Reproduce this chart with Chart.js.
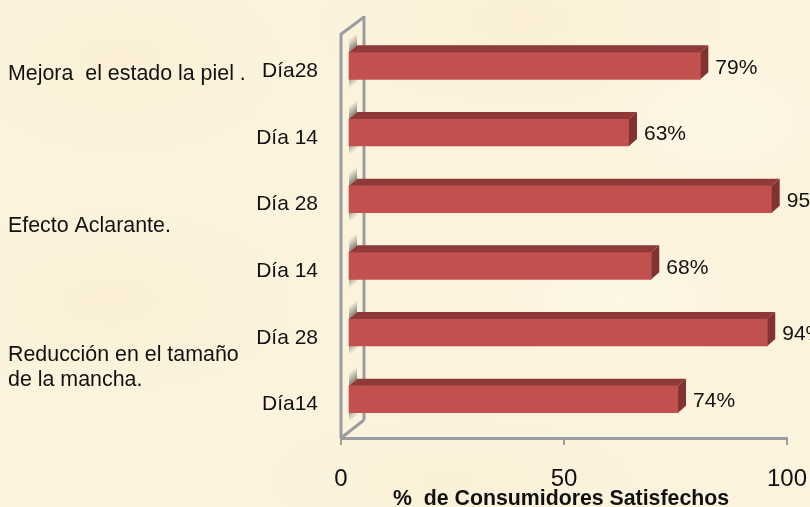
<!DOCTYPE html>
<html>
<head>
<meta charset="utf-8">
<title>Consumidores Satisfechos</title>
<script src="https://cdn.jsdelivr.net/npm/chart.js@4"></script>
<style>
html, body { margin: 0; padding: 0; overflow: hidden; }
body {
  width: 810px; height: 507px;
  background-color: #fcf3dd;
  background-image:
    radial-gradient(ellipse 160px 90px at 120px 60px, rgba(249,236,204,.4), transparent),
    radial-gradient(ellipse 200px 80px at 520px 20px, rgba(249,236,204,.4), transparent),
    radial-gradient(ellipse 180px 90px at 110px 300px, rgba(249,236,204,.4), transparent),
    radial-gradient(ellipse 150px 70px at 620px 300px, rgba(255,250,236,.6), transparent),
    radial-gradient(ellipse 180px 60px at 450px 480px, rgba(249,236,204,.35), transparent),
    radial-gradient(ellipse 140px 80px at 720px 120px, rgba(255,250,236,.6), transparent);
}
canvas { display: block; }
</style>
</head>
<body>
<canvas id="myChart" width="810" height="507"></canvas>
<script>
var categories = ['Día28', 'Día 14', 'Día 28', 'Día 14', 'Día 28', 'Día14'];
var satisfied = [79, 63, 95, 68, 94, 74];
var xTicks = [0, 50, 100];
var groupLabels = [
  { lines: ['Mejora  el estado la piel .'], y: 74 },
  { lines: ['Efecto Aclarante.'], y: 226 },
  { lines: ['Reducción en el tamaño', 'de la mancha.'], y: 355 }
];

var barOffsetX = 7, barOffsetY = -5.5;   // bars sit inside the 3d box
var depthX = 8, depthY = 7;              // depth of each bar
var wallX = 23, wallY = 18;              // depth of the box
var wallColor = '#9a9ea1';

function line(ctx, x1, y1, x2, y2) {
  ctx.beginPath();
  ctx.moveTo(x1, y1);
  ctx.lineTo(x2, y2);
  ctx.stroke();
}

function poly(ctx, pts, fill) {
  ctx.fillStyle = fill;
  ctx.beginPath();
  ctx.moveTo(pts[0][0], pts[0][1]);
  for (var i = 1; i < pts.length; i++) ctx.lineTo(pts[i][0], pts[i][1]);
  ctx.closePath();
  ctx.fill();
}

var box3d = {
  id: 'box3d',
  beforeDatasetsDraw: function(chart) {
    var ctx = chart.ctx, a = chart.chartArea;
    ctx.save();
    // wall and floor
    ctx.strokeStyle = wallColor;
    ctx.lineWidth = 3;
    line(ctx, a.left, a.bottom, a.left, a.top - 3);
    line(ctx, a.left - 1, a.top - 3, a.left + wallX, a.top - 3 - wallY);
    line(ctx, a.left + wallX, a.top - 4 - wallY, a.left + wallX, a.bottom - wallY);
    line(ctx, a.left + wallX, a.bottom - wallY, a.left, a.bottom);
    ctx.restore();

    ctx.save();
    ctx.translate(barOffsetX, barOffsetY);
    // soft shadow of the bars on the wall
    chart.getDatasetMeta(0).data.forEach(function(bar) {
      var x0 = bar.base, top = bar.y - bar.height / 2, bot = bar.y + bar.height / 2;
      var g = ctx.createLinearGradient(x0, top, x0 - 6.6, top - 7.5);
      g.addColorStop(0, 'rgba(85,85,85,.7)');
      g.addColorStop(1, 'rgba(110,110,110,0)');
      poly(ctx, [[x0, top], [x0 + depthX, top - depthY], [x0 + depthX, top - depthY - 12], [x0, top - 12]], g);
      var h = ctx.createLinearGradient(x0, bot, x0 + 5, bot + 6);
      h.addColorStop(0, 'rgba(95,95,95,.6)');
      h.addColorStop(1, 'rgba(130,130,130,0)');
      poly(ctx, [[x0, bot], [x0 + depthX, bot - depthY], [x0 + depthX, bot - depthY + 11], [x0, bot + 11]], h);
    });
  },
  afterDatasetsDraw: function(chart) {
    var ctx = chart.ctx;
    // top and side faces of the bars
    chart.getDatasetMeta(0).data.forEach(function(bar) {
      var x0 = bar.base, x1 = bar.x, top = bar.y - bar.height / 2, bot = bar.y + bar.height / 2;
      poly(ctx, [[x0, top], [x0 + depthX, top - depthY], [x1 + depthX, top - depthY], [x1, top]], '#8f3a38');
      poly(ctx, [[x1, top], [x1 + depthX, top - depthY], [x1 + depthX, bot - depthY], [x1, bot]], '#823331');
    });
    ctx.restore();

    // value labels
    ctx.save();
    ctx.fillStyle = '#111';
    ctx.font = '21px "Liberation Sans"';
    ctx.textAlign = 'left';
    ctx.textBaseline = 'middle';
    chart.getDatasetMeta(0).data.forEach(function(bar, i) {
      ctx.fillText(satisfied[i] + '%', bar.x + barOffsetX + 15, bar.y + barOffsetY + 2);
    });
    // group labels on the left
    ctx.font = '21.4px "Liberation Sans"';
    groupLabels.forEach(function(g) {
      g.lines.forEach(function(t, i) {
        ctx.fillText(t, 8, g.y + i * 25);
      });
    });
    ctx.restore();
  }
};

var ctx = document.getElementById('myChart').getContext('2d');
var myChart = new Chart(ctx, {
  type: 'bar',
  data: {
    labels: categories,
    datasets: [{
      label: '% de Consumidores Satisfechos',
      data: satisfied,
      backgroundColor: '#c1504e',
      barThickness: 27
    }]
  },
  plugins: [box3d],
  options: {
    indexAxis: 'y',
    responsive: false,
    animation: false,
    layout: { padding: { left: 0, right: 23, top: 38, bottom: 0 } },
    plugins: { legend: { display: false }, tooltip: { enabled: false } },
    scales: {
      x: {
        min: 0,
        max: 100,
        afterBuildTicks: function(scale) {
          scale.ticks = xTicks.map(function(v) { return { value: v }; });
        },
        afterFit: function(scale) {
          scale.height = 69;
          scale.paddingLeft = 0;
          scale.paddingRight = 0;
        },
        border: { color: wallColor, width: 3 },
        grid: { drawOnChartArea: false, color: wallColor, lineWidth: 2, tickLength: 7 },
        ticks: {
          color: '#111',
          font: { family: 'Liberation Sans', size: 24 },
          padding: 20,
          maxRotation: 0
        },
        title: {
          display: true,
          text: '%  de Consumidores Satisfechos ',
          color: '#111',
          font: { family: 'Liberation Sans', size: 21.3, weight: 'bold', lineHeight: 1 },
          padding: { top: 0, bottom: -3 }
        }
      },
      y: {
        afterFit: function(scale) { scale.width = 341; },
        border: { display: false },
        grid: { display: false, drawTicks: false },
        ticks: {
          color: '#111',
          font: { family: 'Liberation Sans', size: 21 },
          padding: 23
        }
      }
    }
  }
});
</script>
</body>
</html>
